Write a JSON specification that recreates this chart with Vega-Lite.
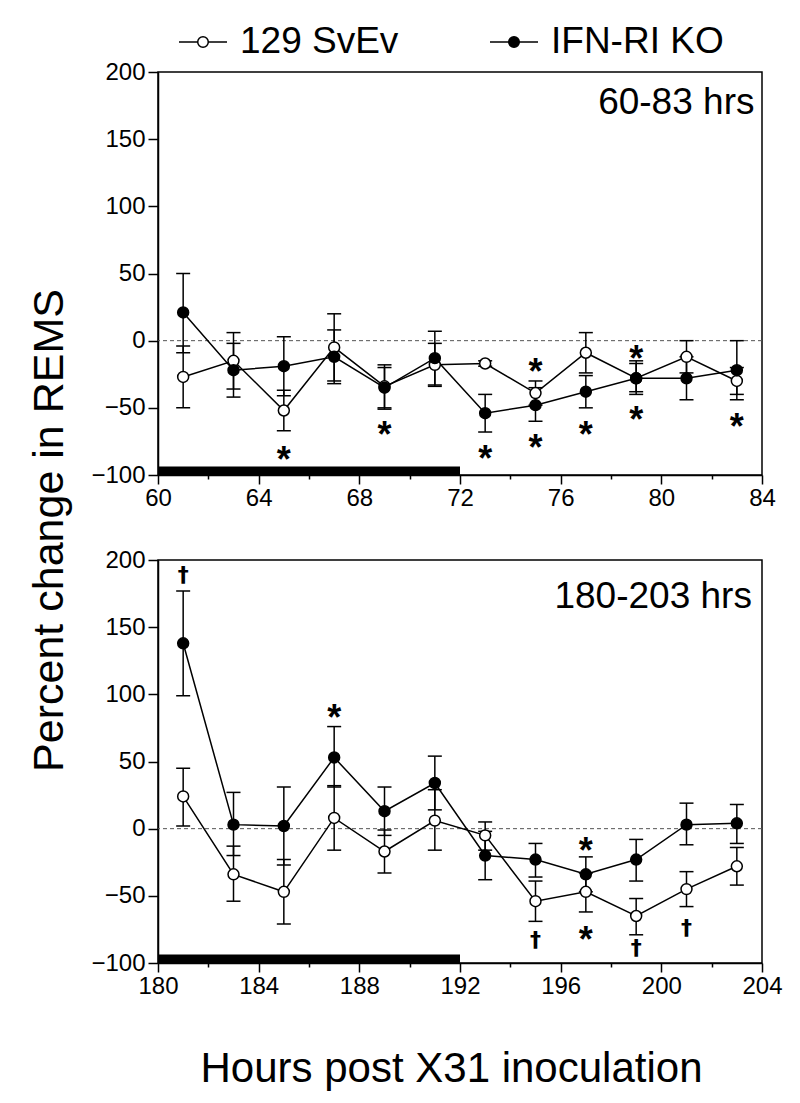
{
  "$schema": "https://vega.github.io/schema/vega-lite/v6.json",
  "background": "white",
  "padding": {"left": 27, "top": 17, "right": 15, "bottom": 10},
  "bounds": "flush",
  "spacing": 85,
  "config": {
    "font": "Liberation Sans",
    "view": {"stroke": "black", "strokeWidth": 1.5},
    "axis": {
      "domainColor": "black", "domainWidth": 1.5, "tickColor": "black", "tickWidth": 1.5,
      "labelFont": "Liberation Sans", "labelFontSize": 24, "labelColor": "black",
      "grid": false, "titleFont": "Liberation Sans", "titleFontWeight": "normal", "titleColor": "black"
    },
    "legend": {
      "labelFont": "Liberation Sans", "labelFontSize": 37, "labelColor": "black", "labelLimit": 500
    }
  },
  "datasets": {
    "pts": [
      {"panel": "A", "hour": 61, "group": "129 SvEv", "mean": -27, "lo": -50, "hi": -4},
      {"panel": "A", "hour": 61, "group": "IFN-RI KO", "mean": 21, "lo": -9, "hi": 50},
      {"panel": "A", "hour": 63, "group": "129 SvEv", "mean": -15, "lo": -36, "hi": 6},
      {"panel": "A", "hour": 63, "group": "IFN-RI KO", "mean": -22, "lo": -42, "hi": -2},
      {"panel": "A", "hour": 65, "group": "129 SvEv", "mean": -52, "lo": -67, "hi": -37},
      {"panel": "A", "hour": 65, "group": "IFN-RI KO", "mean": -19, "lo": -41, "hi": 3},
      {"panel": "A", "hour": 67, "group": "129 SvEv", "mean": -5, "lo": -30, "hi": 20},
      {"panel": "A", "hour": 67, "group": "IFN-RI KO", "mean": -12, "lo": -32, "hi": 8},
      {"panel": "A", "hour": 69, "group": "129 SvEv", "mean": -34, "lo": -51, "hi": -18},
      {"panel": "A", "hour": 69, "group": "IFN-RI KO", "mean": -35, "lo": -50, "hi": -20},
      {"panel": "A", "hour": 71, "group": "129 SvEv", "mean": -18, "lo": -34, "hi": -2},
      {"panel": "A", "hour": 71, "group": "IFN-RI KO", "mean": -13, "lo": -33, "hi": 7},
      {"panel": "A", "hour": 73, "group": "129 SvEv", "mean": -17, "lo": -19, "hi": -15},
      {"panel": "A", "hour": 73, "group": "IFN-RI KO", "mean": -54, "lo": -68, "hi": -40},
      {"panel": "A", "hour": 75, "group": "129 SvEv", "mean": -39, "lo": -48, "hi": -30},
      {"panel": "A", "hour": 75, "group": "IFN-RI KO", "mean": -48, "lo": -60, "hi": -35},
      {"panel": "A", "hour": 77, "group": "129 SvEv", "mean": -9, "lo": -24, "hi": 6},
      {"panel": "A", "hour": 77, "group": "IFN-RI KO", "mean": -38, "lo": -50, "hi": -26},
      {"panel": "A", "hour": 79, "group": "129 SvEv", "mean": -28, "lo": -40, "hi": -15},
      {"panel": "A", "hour": 79, "group": "IFN-RI KO", "mean": -28, "lo": -38, "hi": -17},
      {"panel": "A", "hour": 81, "group": "129 SvEv", "mean": -12, "lo": -24, "hi": 0},
      {"panel": "A", "hour": 81, "group": "IFN-RI KO", "mean": -28, "lo": -44, "hi": -12},
      {"panel": "A", "hour": 83, "group": "129 SvEv", "mean": -30, "lo": -40, "hi": -20},
      {"panel": "A", "hour": 83, "group": "IFN-RI KO", "mean": -22, "lo": -44, "hi": 0},
      {"panel": "B", "hour": 181, "group": "129 SvEv", "mean": 24, "lo": 2, "hi": 45},
      {"panel": "B", "hour": 181, "group": "IFN-RI KO", "mean": 138, "lo": 99, "hi": 177},
      {"panel": "B", "hour": 183, "group": "129 SvEv", "mean": -34, "lo": -54, "hi": -13},
      {"panel": "B", "hour": 183, "group": "IFN-RI KO", "mean": 3, "lo": -20, "hi": 27},
      {"panel": "B", "hour": 185, "group": "129 SvEv", "mean": -47, "lo": -71, "hi": -23},
      {"panel": "B", "hour": 185, "group": "IFN-RI KO", "mean": 2, "lo": -27, "hi": 31},
      {"panel": "B", "hour": 187, "group": "129 SvEv", "mean": 8, "lo": -16, "hi": 32},
      {"panel": "B", "hour": 187, "group": "IFN-RI KO", "mean": 53, "lo": 31, "hi": 76},
      {"panel": "B", "hour": 189, "group": "129 SvEv", "mean": -17, "lo": -33, "hi": -1},
      {"panel": "B", "hour": 189, "group": "IFN-RI KO", "mean": 13, "lo": -5, "hi": 31},
      {"panel": "B", "hour": 191, "group": "129 SvEv", "mean": 6, "lo": -16, "hi": 29},
      {"panel": "B", "hour": 191, "group": "IFN-RI KO", "mean": 34, "lo": 14, "hi": 54},
      {"panel": "B", "hour": 193, "group": "129 SvEv", "mean": -5, "lo": -16, "hi": 5},
      {"panel": "B", "hour": 193, "group": "IFN-RI KO", "mean": -20, "lo": -38, "hi": -2},
      {"panel": "B", "hour": 195, "group": "129 SvEv", "mean": -54, "lo": -69, "hi": -39},
      {"panel": "B", "hour": 195, "group": "IFN-RI KO", "mean": -23, "lo": -36, "hi": -11},
      {"panel": "B", "hour": 197, "group": "129 SvEv", "mean": -47, "lo": -62, "hi": -33},
      {"panel": "B", "hour": 197, "group": "IFN-RI KO", "mean": -34, "lo": -47, "hi": -21},
      {"panel": "B", "hour": 199, "group": "129 SvEv", "mean": -65, "lo": -79, "hi": -52},
      {"panel": "B", "hour": 199, "group": "IFN-RI KO", "mean": -23, "lo": -39, "hi": -8},
      {"panel": "B", "hour": 201, "group": "129 SvEv", "mean": -45, "lo": -58, "hi": -32},
      {"panel": "B", "hour": 201, "group": "IFN-RI KO", "mean": 3, "lo": -12, "hi": 19},
      {"panel": "B", "hour": 203, "group": "129 SvEv", "mean": -28, "lo": -42, "hi": -14},
      {"panel": "B", "hour": 203, "group": "IFN-RI KO", "mean": 4, "lo": -11, "hi": 18}
    ],
    "ann": [
      {"panel": "A", "hour": 65, "y": -83, "sym": "*"},
      {"panel": "A", "hour": 69, "y": -64, "sym": "*"},
      {"panel": "A", "hour": 73, "y": -82, "sym": "*"},
      {"panel": "A", "hour": 75, "y": -17, "sym": "*"},
      {"panel": "A", "hour": 75, "y": -74, "sym": "*"},
      {"panel": "A", "hour": 77, "y": -64, "sym": "*"},
      {"panel": "A", "hour": 79, "y": -8, "sym": "*"},
      {"panel": "A", "hour": 79, "y": -53, "sym": "*"},
      {"panel": "A", "hour": 83, "y": -58, "sym": "*"},
      {"panel": "B", "hour": 181, "y": 189, "sym": "†"},
      {"panel": "B", "hour": 187, "y": 88, "sym": "*"},
      {"panel": "B", "hour": 195, "y": -83, "sym": "†"},
      {"panel": "B", "hour": 197, "y": -11, "sym": "*"},
      {"panel": "B", "hour": 197, "y": -77, "sym": "*"},
      {"panel": "B", "hour": 199, "y": -89, "sym": "†"},
      {"panel": "B", "hour": 201, "y": -74, "sym": "†"}
    ],
    "dark": [
      {"panel": "A", "start": 60, "end": 72, "level": -97},
      {"panel": "B", "start": 180, "end": 192, "level": -97}
    ],
    "labels": [
      {"panel": "A", "x": 83.7, "y": 169, "text": "60-83 hrs"},
      {"panel": "B", "x": 203.6, "y": 164, "text": "180-203 hrs"}
    ]
  },
  "vconcat": [
    {
      "width": 604, "height": 403,
      "layer": [
        {
          "data": {"values": [{"zero": 0}]},
          "mark": {"type": "rule", "strokeDash": [4, 3], "color": "#555", "strokeWidth": 1},
          "encoding": {"y": {"field": "zero", "type": "quantitative", "scale": {"domain": [-100, 200], "nice": false}}}
        },
        {
          "data": {"name": "dark"},
          "transform": [{"filter": "datum.panel == 'A'"}],
          "mark": {"type": "rule", "color": "black", "strokeWidth": 9, "strokeCap": "butt"},
          "encoding": {
            "x": {"field": "start", "type": "quantitative"},
            "x2": {"field": "end"},
            "y": {"field": "level", "type": "quantitative"}
          }
        },
        {
          "data": {"name": "pts"},
          "transform": [{"filter": "datum.panel == 'A'"}],
          "layer": [
            {"mark": {"type": "rule", "color": "black", "strokeWidth": 1.5},
             "encoding": {"y": {"field": "lo", "type": "quantitative"}, "y2": {"field": "hi"}}},
            {"mark": {"type": "tick", "orient": "horizontal", "color": "black", "size": 14, "thickness": 1.5, "opacity": 1},
             "encoding": {"y": {"field": "lo", "type": "quantitative"}}},
            {"mark": {"type": "tick", "orient": "horizontal", "color": "black", "size": 14, "thickness": 1.5, "opacity": 1},
             "encoding": {"y": {"field": "hi", "type": "quantitative"}}},
            {"mark": {"type": "line", "color": "black", "strokeWidth": 1.5},
             "encoding": {"y": {"field": "mean", "type": "quantitative"}, "detail": {"field": "group"}}},
            {"mark": {"type": "point", "shape": "circle", "filled": true, "stroke": "black", "strokeWidth": 1.5, "size": 120, "opacity": 1},
             "encoding": {
               "y": {"field": "mean", "type": "quantitative"},
               "fill": {"field": "group", "type": "nominal",
                 "scale": {"domain": ["129 SvEv", "IFN-RI KO"], "range": ["white", "black"]},
                 "legend": {
                   "title": null, "orient": "none", "direction": "horizontal",
                   "legendX": 20, "legendY": -55,
                   "symbolType": "M-1,0L-0.22,0M0.22,0L1,0M-0.22,0A0.22,0.22,0,1,0,0.22,0A0.22,0.22,0,1,0,-0.22,0Z",
                   "symbolSize": 2304, "symbolStrokeColor": "black", "symbolStrokeWidth": 1.5,
                   "labelOffset": 12, "columnPadding": 88, "labelFontSize": 37, "labelLimit": 500
                 }
               }
             }}
          ],
          "encoding": {
            "x": {"field": "hour", "type": "quantitative"}
          }
        },
        {
          "data": {"name": "ann"},
          "transform": [{"filter": "datum.panel == 'A' && datum.sym == '*'"}],
          "mark": {"type": "text", "font": "Liberation Sans", "fontWeight": "bold", "fontSize": 36, "baseline": "alphabetic", "dy": 20, "color": "black"},
          "encoding": {
            "x": {"field": "hour", "type": "quantitative"},
            "y": {"field": "y", "type": "quantitative"},
            "text": {"field": "sym"}
          }
        },
        {
          "data": {"name": "labels"},
          "transform": [{"filter": "datum.panel == 'A'"}],
          "mark": {"type": "text", "font": "Liberation Sans", "fontSize": 37, "align": "right", "baseline": "alphabetic", "color": "black"},
          "encoding": {
            "x": {"field": "x", "type": "quantitative"},
            "y": {"field": "y", "type": "quantitative"},
            "text": {"field": "text"}
          }
        }
      ],
      "encoding": {
        "x": {"type": "quantitative",
          "scale": {"domain": [60, 84], "nice": false},
          "axis": {"title": null, "values": [60, 62, 64, 66, 68, 70, 72, 74, 76, 78, 80, 82, 84],
            "labelExpr": "datum.value % 4 == 0 ? datum.label : ''",
            "tickSize": {"expr": "datum.value % 4 == 0 ? 9 : 4"}, "labelPadding": 2, "labelFlush": false}},
        "y": {"type": "quantitative",
          "scale": {"domain": [-100, 200], "nice": false},
          "axis": {"title": "Percent change in REMS", "values": [-100, -50, 0, 50, 100, 150, 200],
            "tickSize": 10, "labelPadding": 3,
            "titleFontSize": 43, "titleAngle": -90, "titleX": -96, "titleY": 458,
            "titleAlign": "center", "titleBaseline": "alphabetic"}}
      }
    },
    {
      "width": 604, "height": 403,
      "layer": [
        {
          "data": {"values": [{"zero": 0}]},
          "mark": {"type": "rule", "strokeDash": [4, 3], "color": "#555", "strokeWidth": 1},
          "encoding": {"y": {"field": "zero", "type": "quantitative"}}
        },
        {
          "data": {"name": "dark"},
          "transform": [{"filter": "datum.panel == 'B'"}],
          "mark": {"type": "rule", "color": "black", "strokeWidth": 9, "strokeCap": "butt"},
          "encoding": {
            "x": {"field": "start", "type": "quantitative"},
            "x2": {"field": "end"},
            "y": {"field": "level", "type": "quantitative"}
          }
        },
        {
          "data": {"name": "pts"},
          "transform": [{"filter": "datum.panel == 'B'"}],
          "layer": [
            {"mark": {"type": "rule", "color": "black", "strokeWidth": 1.5},
             "encoding": {"y": {"field": "lo", "type": "quantitative"}, "y2": {"field": "hi"}}},
            {"mark": {"type": "tick", "orient": "horizontal", "color": "black", "size": 14, "thickness": 1.5, "opacity": 1},
             "encoding": {"y": {"field": "lo", "type": "quantitative"}}},
            {"mark": {"type": "tick", "orient": "horizontal", "color": "black", "size": 14, "thickness": 1.5, "opacity": 1},
             "encoding": {"y": {"field": "hi", "type": "quantitative"}}},
            {"mark": {"type": "line", "color": "black", "strokeWidth": 1.5},
             "encoding": {"y": {"field": "mean", "type": "quantitative"}, "detail": {"field": "group"}}},
            {"mark": {"type": "point", "shape": "circle", "filled": true, "stroke": "black", "strokeWidth": 1.5, "size": 120, "opacity": 1},
             "encoding": {
               "y": {"field": "mean", "type": "quantitative"},
               "fill": {"field": "group", "type": "nominal",
                 "scale": {"domain": ["129 SvEv", "IFN-RI KO"], "range": ["white", "black"]},
                 "legend": null}
             }}
          ],
          "encoding": {
            "x": {"field": "hour", "type": "quantitative"}
          }
        },
        {
          "data": {"name": "ann"},
          "transform": [{"filter": "datum.panel == 'B' && datum.sym == '*'"}],
          "mark": {"type": "text", "font": "Liberation Sans", "fontWeight": "bold", "fontSize": 36, "baseline": "alphabetic", "dy": 20, "color": "black"},
          "encoding": {
            "x": {"field": "hour", "type": "quantitative"},
            "y": {"field": "y", "type": "quantitative"},
            "text": {"field": "sym"}
          }
        },
        {
          "data": {"name": "ann"},
          "transform": [{"filter": "datum.panel == 'B' && datum.sym == '†'"}],
          "mark": {"type": "text", "font": "DejaVu Sans", "fontWeight": "bold", "fontSize": 22, "baseline": "alphabetic", "dy": 7, "color": "black"},
          "encoding": {
            "x": {"field": "hour", "type": "quantitative"},
            "y": {"field": "y", "type": "quantitative"},
            "text": {"field": "sym"}
          }
        },
        {
          "data": {"name": "labels"},
          "transform": [{"filter": "datum.panel == 'B'"}],
          "mark": {"type": "text", "font": "Liberation Sans", "fontSize": 37, "align": "right", "baseline": "alphabetic", "color": "black"},
          "encoding": {
            "x": {"field": "x", "type": "quantitative"},
            "y": {"field": "y", "type": "quantitative"},
            "text": {"field": "text"}
          }
        }
      ],
      "encoding": {
        "x": {"type": "quantitative",
          "scale": {"domain": [180, 204], "nice": false},
          "axis": {"title": "Hours post X31 inoculation", "values": [180, 182, 184, 186, 188, 190, 192, 194, 196, 198, 200, 202, 204],
            "labelExpr": "datum.value % 4 == 0 ? datum.label : ''",
            "tickSize": {"expr": "datum.value % 4 == 0 ? 9 : 4"}, "labelPadding": 2, "labelFlush": false,
            "titleFontSize": 42, "titleY": 118, "titleX": 293, "titleBaseline": "alphabetic", "titleAlign": "center"}},
        "y": {"type": "quantitative",
          "scale": {"domain": [-100, 200], "nice": false},
          "axis": {"title": null, "values": [-100, -50, 0, 50, 100, 150, 200], "tickSize": 10, "labelPadding": 3}}
      }
    }
  ]
}
